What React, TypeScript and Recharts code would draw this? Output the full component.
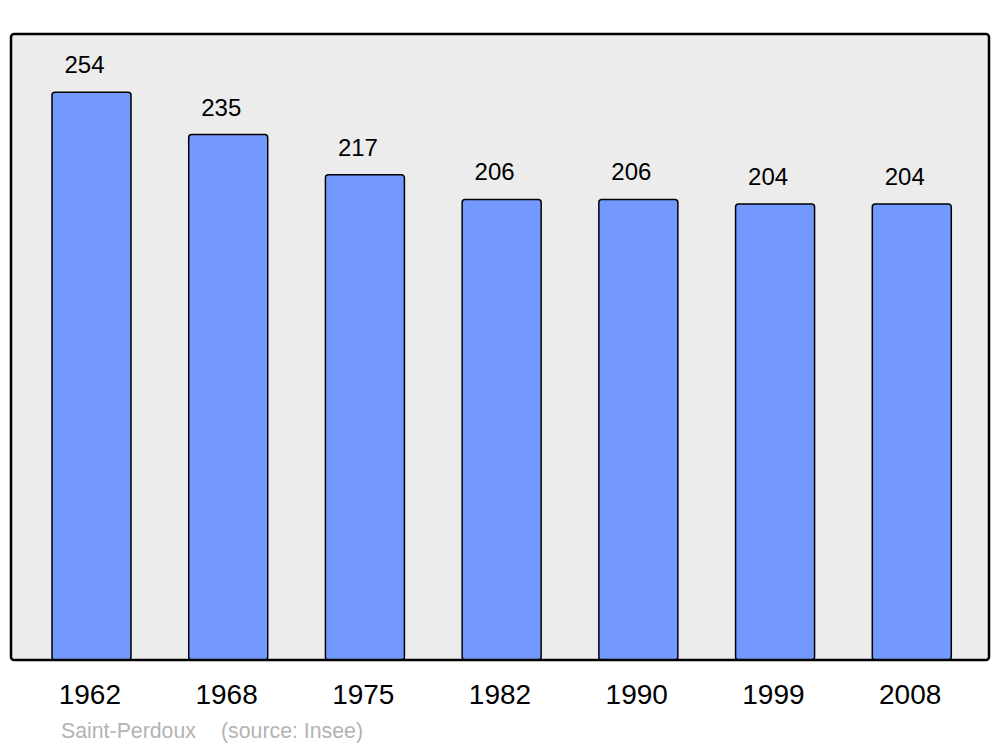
import React from 'react';
import { BarChart, Bar, XAxis, YAxis, LabelList } from 'recharts';

const years = ['1962', '1968', '1975', '1982', '1990', '1999', '2008'];
const population = [254, 235, 217, 206, 206, 204, 204];
const yDomain = [0, 280];

const FONT = '"Liberation Sans", Arial, sans-serif';

const chartData = years.map((year, i) => ({ year, population: population[i] }));

const YearTick = ({ x, y, payload }: any) => (
  <text x={x - 1.5} y={y + 36} textAnchor="middle" fontSize={28} fontFamily={FONT} fill="#000">
    {payload.value}
  </text>
);

const ValueLabel = ({ x, y, width, value }: any) => (
  <text x={x + width / 2 - 7} y={y - 19} textAnchor="middle" fontSize={24} fontFamily={FONT} fill="#000">
    {value}
  </text>
);

export default function App() {
  return (
    <div style={{ position: 'relative', width: 1000, height: 747, background: '#fff' }}>
      <style>{'body{margin:0}'}</style>
      {/* plot frame: fill behind the bars, outline on top */}
      <svg width={1000} height={747} style={{ position: 'absolute', left: 0, top: 0 }}>
        <rect x={11} y={34} width={978} height={626} rx={3} fill="#ececec" />
      </svg>
      <div style={{ position: 'absolute', left: 0, top: 0 }}>
        <BarChart
          width={1000}
          height={747}
          data={chartData}
          margin={{ top: 34, right: 11, left: 11, bottom: 0 }}
          barSize={79}
        >
          <XAxis
            dataKey="year"
            axisLine={false}
            tickLine={false}
            height={87}
            padding={{ left: 12, right: 9 }}
            tick={<YearTick />}
            interval={0}
          />
          <YAxis hide domain={yDomain} />
          <Bar
            dataKey="population"
            fill="#7399ff"
            stroke="#000"
            strokeWidth={1.5}
            radius={3}
            isAnimationActive={false}
          >
            <LabelList dataKey="population" content={<ValueLabel />} />
          </Bar>
        </BarChart>
      </div>
      <svg width={1000} height={747} style={{ position: 'absolute', left: 0, top: 0, pointerEvents: 'none' }}>
        <rect x={11} y={34} width={978} height={626} rx={3} fill="none" stroke="#000" strokeWidth={2.5} />
        <text x={61} y={738} fontSize={21.3} fontFamily={FONT} fill="#b3b3b3">Saint-Perdoux</text>
        <text x={221} y={738} fontSize={21.3} fontFamily={FONT} fill="#b3b3b3">(source: Insee)</text>
      </svg>
    </div>
  );
}
